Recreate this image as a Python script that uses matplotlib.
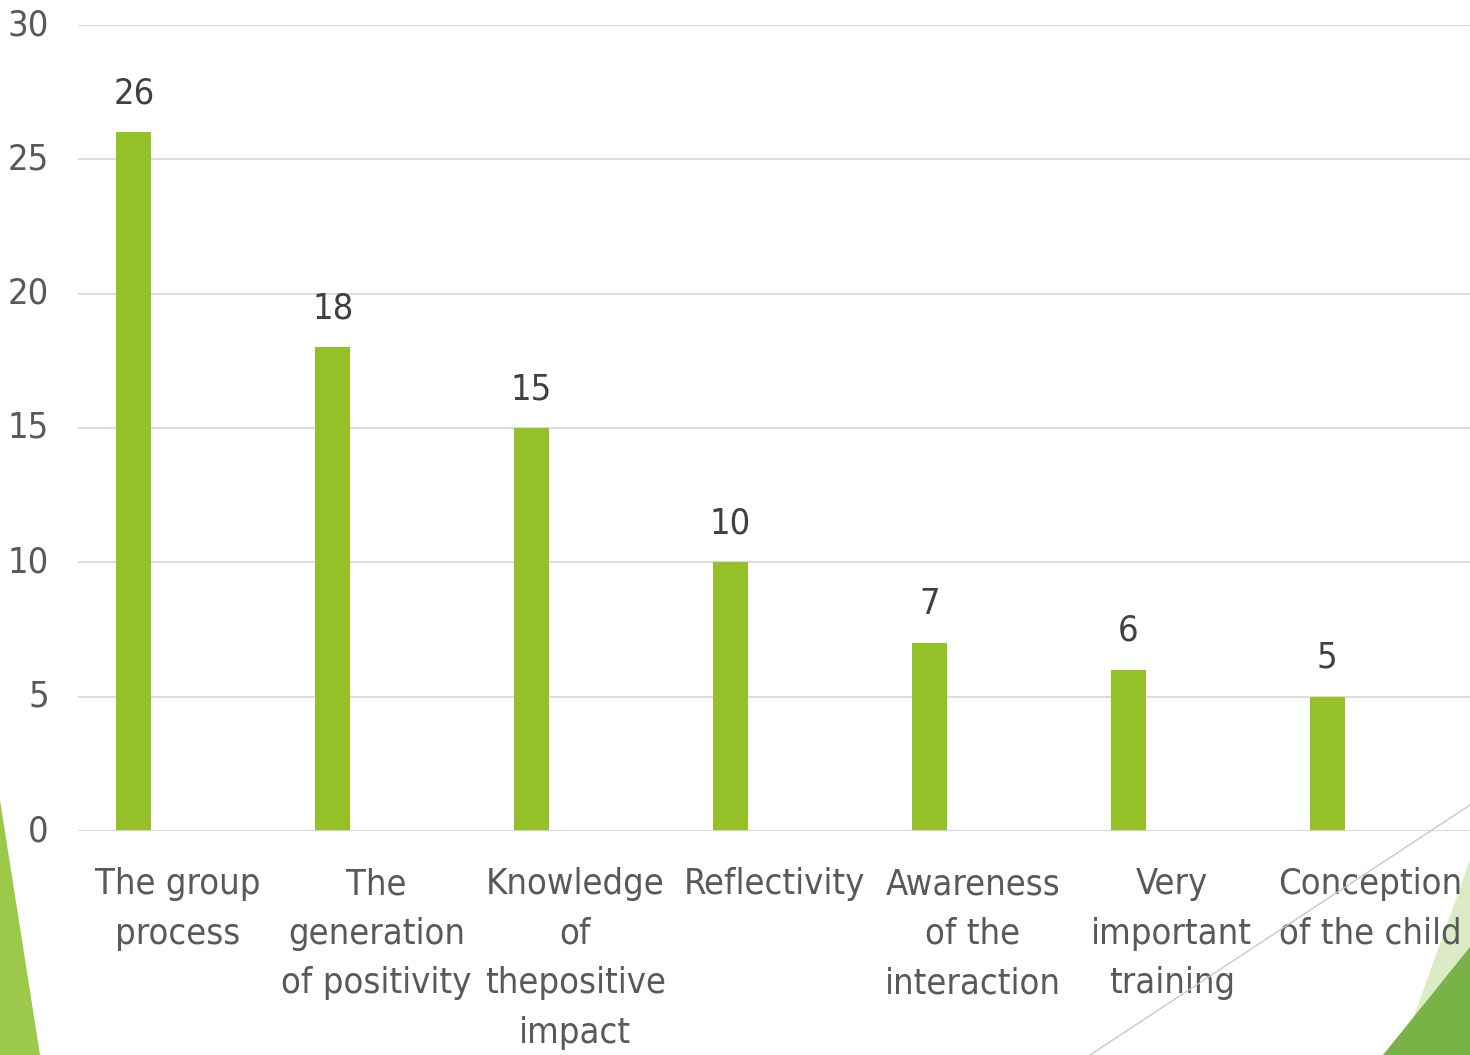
import matplotlib
matplotlib.use('Agg')
import matplotlib.pyplot as plt
import matplotlib.patches as patches
from matplotlib import font_manager

categories = ['The group\nprocess',
              'The\ngeneration\nof positivity',
              'Knowledge\nof\nthepositive\nimpact',
              'Reflectivity',
              'Awareness\nof the\ninteraction',
              'Very\nimportant\ntraining',
              'Conception\nof the child']
values = [26, 18, 15, 10, 7, 6, 5]
yticks = [0, 5, 10, 15, 20, 25, 30]

# look for a narrow face; the reference uses a condensed-looking sans
fonts = font_manager.fontManager.ttflist
stretch = 'normal'
if any(f.name == 'DejaVu Sans' and str(f.stretch) in ('condensed', '400', 'semi-condensed') for f in fonts):
    family, stretch, fs = 'DejaVu Sans', 'condensed', 26
elif any(f.name == 'Liberation Sans Narrow' for f in fonts):
    family, fs = 'Liberation Sans Narrow', 27
else:
    family, fs = 'DejaVu Sans', 23
plt.rcParams['font.family'] = [family, 'DejaVu Sans']
plt.rcParams['font.stretch'] = stretch

text_color = '#595959'
bar_color = '#93C127'
grid_color = '#D9D9D9'

fig = plt.figure(figsize=(14.7, 10.55), dpi=100)
ax = fig.add_axes([78 / 1470, (1055 - 831) / 1055, 1 - 78 / 1470, (831 - 25) / 1055])

x = list(range(len(values)))
bar_x = [i - 0.219 for i in x]
bars = ax.bar(bar_x, values, width=0.176, color=bar_color, zorder=3)

for b, v in zip(bars, values):
    ax.annotate(str(v), (b.get_x() + b.get_width() / 2, v), xytext=(0, 22),
                textcoords='offset pixels', ha='center', va='bottom',
                fontsize=fs, color='#404040')

ax.set_xlim(-0.5, 6.5)
ax.set_ylim(0, 30)
ax.set_yticks(yticks)
ax.set_xticks(x)
ax.set_xticklabels(categories, fontsize=fs, color=text_color, linespacing=1.58, va='top')
ax.tick_params(axis='y', labelsize=fs, labelcolor=text_color, length=0, pad=21)
ax.tick_params(axis='x', length=0, pad=26)
for t in ax.get_yticklabels():
    t.set_verticalalignment('center')

ax.yaxis.grid(True, color=grid_color, linewidth=1.3, zorder=0)
ax.axhline(0, color=grid_color, linewidth=2, zorder=4)
for s in ax.spines.values():
    s.set_visible(False)

# decorative slide shapes
fig.patches.append(patches.Polygon([(0, 1 - 800 / 1055), (0, 0), (40 / 1470, 0)],
                                   closed=True, transform=fig.transFigure,
                                   facecolor='#9CC94A', edgecolor='none', zorder=-1))
fig.patches.append(patches.Polygon([(1, 1 - 860 / 1055), (1, 0), (1400 / 1470, 0)],
                                   closed=True, transform=fig.transFigure,
                                   facecolor='#DCEBC5', edgecolor='none', zorder=-1))
fig.patches.append(patches.Polygon([(1, 1 - 947 / 1055), (1, 0), (1383 / 1470, 0)],
                                   closed=True, transform=fig.transFigure,
                                   facecolor='#79B246', edgecolor='none', zorder=-1))
fig.lines.append(plt.Line2D([1090 / 1470, 1], [0, 1 - 805 / 1055],
                            transform=fig.transFigure, color='#C8C8C8', linewidth=1))

fig.savefig('out.png', dpi=100)
